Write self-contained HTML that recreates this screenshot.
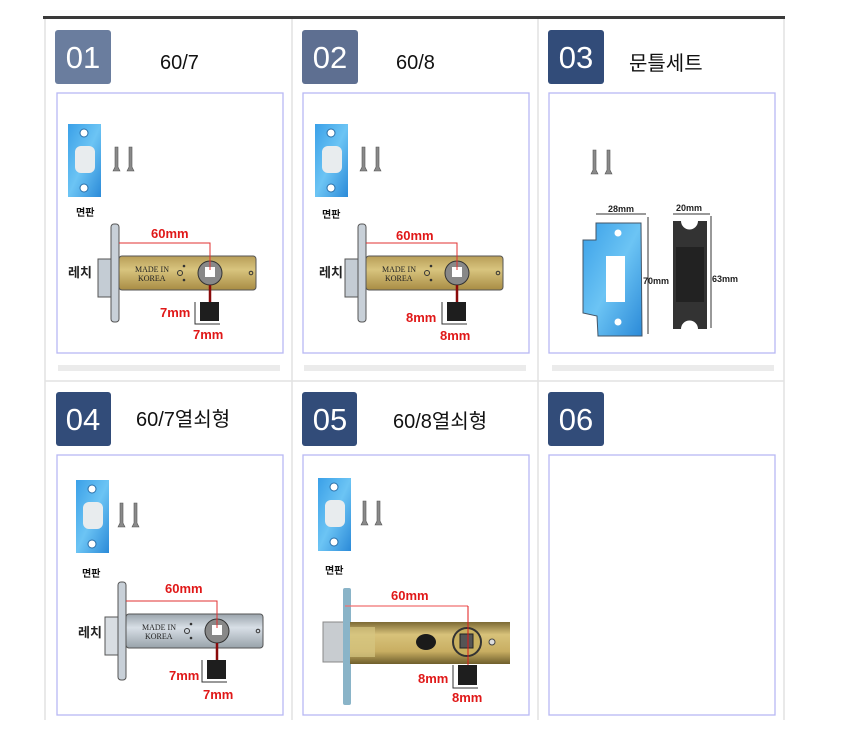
<!DOCTYPE html>
<html><head><meta charset="utf-8"><style>
body{margin:0;width:860px;height:744px;background:#fff;overflow:hidden;font-family:"Liberation Sans","Noto Sans CJK KR",sans-serif}
</style></head><body>
<svg width="860" height="744" viewBox="0 0 860 744" xmlns="http://www.w3.org/2000/svg" style="position:absolute;left:0;top:0">
<defs>
<linearGradient id="gold" x1="0" y1="0" x2="0" y2="1"><stop offset="0" stop-color="#b89e58"/><stop offset="0.4" stop-color="#d8c47e"/><stop offset="1" stop-color="#a88c44"/></linearGradient>
<linearGradient id="silver" x1="0" y1="0" x2="0" y2="1"><stop offset="0" stop-color="#9aa4ac"/><stop offset="0.4" stop-color="#d8dfe6"/><stop offset="1" stop-color="#98a2aa"/></linearGradient>
<linearGradient id="brass" x1="0" y1="0" x2="0" y2="1"><stop offset="0" stop-color="#7c6a34"/><stop offset="0.3" stop-color="#d8c27a"/><stop offset="0.7" stop-color="#c8ae62"/><stop offset="1" stop-color="#6e5e2c"/></linearGradient>
<linearGradient id="blue" x1="0" y1="0" x2="1" y2="1"><stop offset="0" stop-color="#3aa0e8"/><stop offset="0.5" stop-color="#6cc4f4"/><stop offset="1" stop-color="#2b8ad8"/></linearGradient>
<g id="plate">
<rect x="0" y="0" width="33" height="73" fill="url(#blue)"/>
<circle cx="16" cy="9" r="4" fill="#fff" stroke="#2a6fa8"/>
<circle cx="16" cy="64" r="4" fill="#fff" stroke="#2a6fa8"/>
<rect x="7" y="22" width="20" height="27" rx="6" fill="#e8ecee"/>
</g>
<g id="screws">
<path d="M3 0 L6 0 L6 20 L8 24 L1 24 L3 20Z" fill="#8a8a8a" stroke="#555" stroke-width="0.6"/>
<path d="M17 0 L20 0 L20 20 L22 24 L15 24 L17 20Z" fill="#8a8a8a" stroke="#555" stroke-width="0.6"/>
</g>
</defs>
<!-- frame -->
<rect x="43" y="16" width="742" height="3" fill="#3a3a3a"/>
<g stroke="#e2e2e2" stroke-width="1.5" fill="none">
<line x1="45" y1="19" x2="45" y2="720"/><line x1="292" y1="19" x2="292" y2="720"/><line x1="538" y1="19" x2="538" y2="720"/><line x1="784" y1="19" x2="784" y2="720"/>
<line x1="45" y1="381" x2="784" y2="381"/>
</g>
<!-- badges -->
<rect x="55" y="30" width="56" height="54" rx="3" fill="#6a7d9e"/>
<rect x="302" y="30" width="56" height="54" rx="3" fill="#5e6f91"/>
<rect x="548" y="30" width="56" height="54" rx="3" fill="#324c79"/>
<rect x="56" y="392" width="55" height="54" rx="3" fill="#324c79"/>
<rect x="302" y="392" width="55" height="54" rx="3" fill="#324c79"/>
<rect x="548" y="392" width="56" height="54" rx="3" fill="#324c79"/>
<g fill="#fff" font-size="31" font-family="Liberation Sans, sans-serif" text-anchor="middle">
<text x="83" y="68">01</text><text x="330" y="68">02</text><text x="576" y="68">03</text>
<text x="83" y="430">04</text><text x="330" y="430">05</text><text x="576" y="430">06</text>
</g>
<g fill="#111" font-size="20" font-family="Liberation Sans, Noto Sans CJK KR, sans-serif">
<text x="160" y="69">60/7</text><text x="396" y="69">60/8</text><text x="629" y="70">문틀세트</text>
<text x="136" y="426">60/7열쇠형</text><text x="393" y="428">60/8열쇠형</text>
</g>
<!-- boxes -->
<g fill="none" stroke="#b8b8f4" stroke-width="1.3">
<rect x="57" y="93" width="226" height="260"/><rect x="303" y="93" width="226" height="260"/><rect x="549" y="93" width="226" height="260"/>
<rect x="57" y="455" width="226" height="260"/><rect x="303" y="455" width="226" height="260"/><rect x="549" y="455" width="226" height="260"/>
</g>
<g fill="#ebebeb"><rect x="58" y="365" width="222" height="6"/><rect x="304" y="365" width="222" height="6"/><rect x="552" y="365" width="222" height="6"/></g>

<!-- panel 01 -->
<use href="#plate" x="68" y="124"/><use href="#screws" x="112" y="147"/>
<use href="#plate" x="315" y="124"/><use href="#screws" x="359" y="147"/>
<use href="#plate" x="76" y="480"/><use href="#screws" x="117" y="503"/>
<use href="#plate" x="318" y="478"/><use href="#screws" x="360" y="501"/>
<use href="#screws" x="590" y="150"/>
<g font-size="10" font-weight="bold" fill="#111">
<text x="76" y="216">면판</text><text x="322" y="218">면판</text><text x="82" y="577">면판</text><text x="325" y="574">면판</text>
</g>

<g id="l1">
<rect x="98" y="259" width="16" height="38" fill="#c4ccd4" stroke="#555"/>
<rect x="111" y="224" width="8" height="98" rx="3" fill="#c8d0d8" stroke="#555"/>
<rect x="119" y="256" width="137" height="34" rx="3" fill="url(#gold)" stroke="#555"/>
<circle cx="210" cy="273" r="12" fill="#888" stroke="#333"/>
<rect x="205" y="267" width="10" height="10" fill="#fff"/>
<circle cx="180" cy="273" r="2.5" fill="none" stroke="#333"/><circle cx="184" cy="266" r="1.3" fill="#333"/><circle cx="184" cy="280" r="1.3" fill="#333"/>
<circle cx="251" cy="273" r="1.8" fill="none" stroke="#333"/>
<text x="135" y="272" font-size="8" font-family="Liberation Serif, serif" fill="#222">MADE IN</text>
<text x="138" y="281" font-size="8" font-family="Liberation Serif, serif" fill="#222">KOREA</text>
<polyline points="119,243 210,243 210,270" fill="none" stroke="#e23030" stroke-width="1"/>
<line x1="210" y1="285" x2="210" y2="302" stroke="#8a0a0a" stroke-width="2.5"/>
<rect x="200" y="302" width="19" height="19" fill="#1e1e1e"/>
<polyline points="195,302 195,324 220,324" fill="none" stroke="#333"/>
</g>
<g font-size="13" font-weight="bold" fill="#e01818">
<text x="151" y="238">60mm</text><text x="160" y="317">7mm</text><text x="193" y="339">7mm</text>
</g>
<text x="68" y="277" font-size="13" font-weight="bold" fill="#222">레치</text>

<!-- panel 02 -->
<use href="#l1" x="247" y="0"/>
<g font-size="13" font-weight="bold" fill="#e01818">
<text x="396" y="240">60mm</text><text x="406" y="322">8mm</text><text x="440" y="340">8mm</text>
</g>
<text x="319" y="277" font-size="13" font-weight="bold" fill="#222">레치</text>

<!-- panel 04 silver -->
<g transform="translate(7,358)">
<rect x="98" y="259" width="16" height="38" fill="#d8dde2" stroke="#555"/>
<rect x="111" y="224" width="8" height="98" rx="3" fill="#c8d0d8" stroke="#555"/>
<rect x="119" y="256" width="137" height="34" rx="3" fill="url(#silver)" stroke="#555"/>
<circle cx="210" cy="273" r="12" fill="#888" stroke="#333"/>
<rect x="205" y="267" width="10" height="10" fill="#fff"/>
<circle cx="180" cy="273" r="2.5" fill="none" stroke="#333"/><circle cx="184" cy="266" r="1.3" fill="#333"/><circle cx="184" cy="280" r="1.3" fill="#333"/>
<circle cx="251" cy="273" r="1.8" fill="none" stroke="#333"/>
<text x="135" y="272" font-size="8" font-family="Liberation Serif, serif" fill="#222">MADE IN</text>
<text x="138" y="281" font-size="8" font-family="Liberation Serif, serif" fill="#222">KOREA</text>
<polyline points="119,243 210,243 210,270" fill="none" stroke="#e23030" stroke-width="1"/>
<line x1="210" y1="285" x2="210" y2="302" stroke="#8a0a0a" stroke-width="2.5"/>
<rect x="200" y="302" width="19" height="19" fill="#1e1e1e"/>
<polyline points="195,302 195,324 220,324" fill="none" stroke="#333"/>
</g>
<g font-size="13" font-weight="bold" fill="#e01818">
<text x="165" y="593">60mm</text><text x="169" y="680">7mm</text><text x="203" y="699">7mm</text>
</g>
<text x="78" y="637" font-size="13" font-weight="bold" fill="#222">레치</text>

<!-- panel 05 photo latch -->
<rect x="323" y="622" width="22" height="40" fill="#c8ccd0" stroke="#888"/>
<rect x="343" y="588" width="8" height="117" rx="2" fill="#8ab4c8"/>
<rect x="350" y="622" width="160" height="42" fill="url(#brass)"/>
<rect x="350" y="627" width="25" height="30" fill="#d6c682" opacity="0.7"/>
<ellipse cx="426" cy="642" rx="10" ry="8" fill="#1a1a1a"/>
<circle cx="467" cy="642" r="14" fill="#c8b060" stroke="#333" stroke-width="2"/>
<rect x="460" y="634" width="13" height="14" fill="#555" stroke="#222"/>
<circle cx="492" cy="642" r="3" fill="#ddd" stroke="#444"/>
<line x1="345" y1="606" x2="468" y2="606" stroke="#f07070" stroke-width="1.3"/>
<line x1="468" y1="606" x2="468" y2="665" stroke="#e01818" stroke-width="1"/>
<rect x="458" y="665" width="19" height="20" fill="#1e1e1e"/>
<polyline points="453,665 453,688 478,688" fill="none" stroke="#333"/>
<g font-size="13" font-weight="bold" fill="#e01818">
<text x="391" y="600">60mm</text><text x="418" y="683">8mm</text><text x="452" y="702">8mm</text>
</g>

<!-- panel 03 -->
<line x1="596" y1="214" x2="646" y2="214" stroke="#333"/>
<line x1="648" y1="217" x2="648" y2="334" stroke="#333"/>
<path d="M583 240 L596 240 L596 223 L641 223 L642 336 L598 336 L597 316 L583 313 Z" fill="url(#blue)" stroke="#456"/>
<rect x="606" y="256" width="19" height="46" fill="#fff"/>
<circle cx="618" cy="233" r="3.5" fill="#fff"/><circle cx="618" cy="322" r="3.5" fill="#fff"/>
<line x1="673" y1="214" x2="710" y2="214" stroke="#333"/>
<line x1="711" y1="216" x2="711" y2="328" stroke="#333"/>
<path d="M673 221 L681 221 A6 6 0 0 0 698 221 L707 221 L707 329 L698 329 A6 6 0 0 0 681 329 L673 329 Z" fill="#333"/>
<rect x="676" y="247" width="28" height="55" fill="#222"/>
<g font-size="9" font-weight="bold" fill="#222">
<text x="608" y="212">28mm</text><text x="676" y="211">20mm</text><text x="643" y="284">70mm</text><text x="712" y="282">63mm</text>
</g>
</svg>
</body></html>
